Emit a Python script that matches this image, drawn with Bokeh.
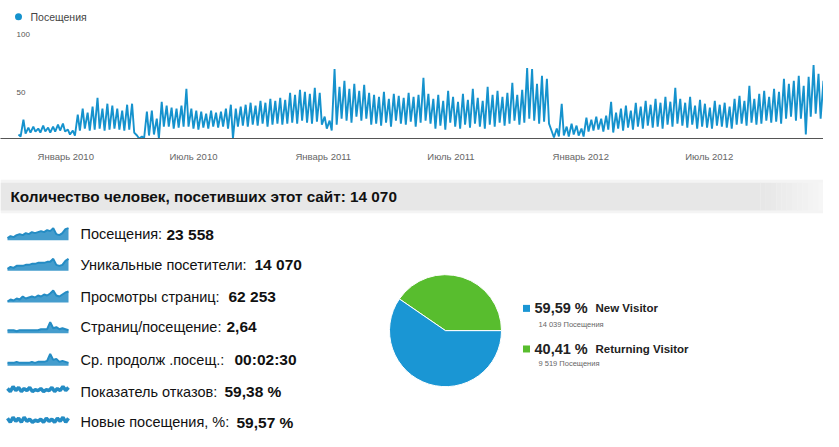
import numpy as np
import pandas as pd
from bokeh.plotting import figure
from bokeh.layouts import column
from bokeh.models import Range1d, FixedTicker
from bokeh.core.properties import value
from bokeh.embed import file_html
from bokeh.resources import INLINE

# ---------------- DATA ----------------
series_start = "2009-10-24"
# weekly peak (weekday) and trough (weekend) of daily visits
week_high = [4, 19, 11, 12, 10, 13, 11, 12, 14, 15, 9, 8, 24, 30, 26, 32, 41, 30, 35, 33,
             30, 28, 34, 35, 3, 2, 27, 28, 20, 37, 33, 31, 30, 33, 50, 30, 28, 27, 25, 28,
             26, 27, 30, 34, 30, 32, 34, 36, 33, 38, 36, 40, 38, 41, 39, 46, 44, 49, 47, 45,
             51, 46, 22, 18, 70, 52, 58, 50, 55, 48, 54, 46, 44, 42, 47, 40, 45, 43, 41, 46,
             42, 44, 61, 45, 40, 44, 38, 48, 42, 37, 45, 39, 50, 41, 38, 52, 44, 48, 42, 46,
             56, 44, 49, 71, 70, 55, 63, 60, 7, 10, 35, 12, 15, 13, 10, 21, 19, 22, 20, 23,
             37, 26, 30, 33, 28, 36, 32, 38, 34, 40, 36, 42, 37, 51, 40, 36, 42, 33, 39, 35,
             31, 38, 34, 36, 32, 40, 43, 38, 53, 40, 45, 48, 42, 50, 47, 60, 55, 58, 63, 53,
             62, 74, 65, 58, 62, 50]
week_low = [2, 5, 6, 7, 6, 7, 6, 7, 8, 7, 4, 3, 8, 10, 8, 9, 10, 8, 9, 10,
            9, 8, 9, 6, 0, 0, 3, 4, 0, 12, 12, 10, 11, 12, 12, 10, 9, 11, 10, 12,
            11, 12, 10, 0, 12, 13, 12, 14, 13, 15, 12, 14, 15, 14, 15, 16, 15, 18, 16, 15,
            17, 14, 10, 8, 14, 20, 18, 16, 22, 18, 20, 14, 15, 13, 16, 12, 18, 15, 14, 17,
            12, 16, 18, 15, 10, 13, 9, 16, 12, 10, 14, 11, 15, 12, 10, 14, 12, 16, 13, 15,
            18, 14, 16, 20, 18, 15, 17, 15, 1, 2, 3, 2, 4, 3, 2, 7, 8, 9, 7, 9,
            6, 10, 8, 11, 9, 12, 10, 13, 11, 12, 10, 14, 12, 15, 13, 11, 14, 10, 12, 11,
            10, 13, 12, 11, 10, 14, 15, 13, 16, 14, 15, 18, 16, 17, 15, 20, 22, 18, 20, 4,
            22, 25, 20, 18, 21, 15]

tick_dates = ["2010-01-01", "2010-07-01", "2011-01-01", "2011-07-01", "2012-01-01", "2012-07-01"]
tick_labels = ["Январь 2010", "Июль 2010", "Январь 2011", "Июль 2011", "Январь 2012", "Июль 2012"]
y_ticks = [50, 100]
series_name = "Посещения"

unique_visitors = 14070
metric_names = ["Посещения:", "Уникальные посетители:", "Просмотры страниц:",
                "Страниц/посещение:", "Ср. продолж .посещ.:", "Показатель отказов:",
                "Новые посещения, %:"]
metric_values = ["23 558", "14 070", "62 253", "2,64", "00:02:30", "59,38 %", "59,57 %"]

spark_visits = [2, 4, 3, 5, 6, 5, 7, 6, 8, 7, 8, 9, 8, 10, 9, 12, 6, 5, 7, 11, 12]
spark_unique = [2, 4, 3, 5, 5, 5, 6, 6, 7, 7, 8, 8, 8, 9, 9, 12, 6, 5, 6, 10, 12]
spark_pageviews = [1, 3, 2, 4, 3, 6, 4, 5, 6, 5, 7, 6, 8, 7, 9, 12, 7, 6, 8, 10, 11]
spark_pages_per_visit = [3, 3, 3, 2, 3, 3, 3, 3, 3, 3, 3, 4, 4, 4, 11, 5, 6, 4, 5, 4, 3]
spark_duration = [3, 3, 3, 4, 3, 3, 3, 3, 4, 3, 4, 4, 4, 5, 12, 6, 7, 4, 5, 4, 3]
spark_bounce = [9, 6, 11, 7, 10, 6, 9, 7, 10, 6, 8, 7, 9, 6, 8, 7, 10, 6, 9, 7, 11, 7, 10]
spark_new = [10, 6, 11, 7, 10, 6, 11, 7, 9, 6, 8, 7, 9, 6, 10, 7, 9, 6, 10, 7, 11, 6, 10]
sparks = [spark_visits, spark_unique, spark_pageviews, spark_pages_per_visit,
          spark_duration, spark_bounce, spark_new]

visitor_types = ["New Visitor", "Returning Visitor"]
visitor_share = [59.59, 40.41]
visitor_visits = [14039, 9519]

# ---------------- STYLE / LAYOUT ----------------
FONT = "Liberation Sans"
BLUE = "#1592cd"
SPARK = "#248cc4"
pie_colors = ["#1a96d4", "#58bd2e"]
W, H = 823, 431
SY = 0.99                                 # slight vertical squeeze so the page fits


def Y(r):
    return r * SY


H_TOP = int(round(Y(166)))
H_BOT = H - H_TOP


def YU(r):                               # reference y -> bottom-panel data y (upwards)
    return H - Y(r)


# ---------------- TOP LINE CHART ----------------
start = pd.Timestamp(series_start)
xs, ys = [], []
for i, (h, l) in enumerate(zip(week_high, week_low)):
    xs += [7 * i + 2, 7 * i + 5]
    ys += [h, l]
tick_pos = [int((pd.Timestamp(d) - start).days) for d in tick_dates]

frame_h = int(round(Y(144)))
px_per_unit = (Y(144) - Y(40)) / 100.0
px_per_day = (582 - 67) / 730.0
x0 = xs[0] - 18 / px_per_day
x1 = x0 + W / px_per_day

p1 = figure(width=W, height=H_TOP, output_backend="svg", toolbar_location=None,
            x_range=Range1d(x0, x1), y_range=Range1d(0, frame_h / px_per_unit),
            y_axis_type=None, min_border_left=0, min_border_right=0,
            min_border_top=0, min_border_bottom=H_TOP - frame_h)
p1.outline_line_color = None
p1.grid.visible = False

p1.line(xs, ys, color=BLUE, line_width=1.9)

ax = p1.xaxis[0]
ax.ticker = FixedTicker(ticks=tick_pos)
ax.major_label_overrides = {k: v for k, v in zip(tick_pos, tick_labels)}
ax.axis_line_color = "#555555"
ax.axis_line_width = 1.2
ax.major_tick_line_color = None
ax.minor_tick_line_color = None
ax.major_label_text_font = FONT
ax.major_label_text_font_size = "9.5px"
ax.major_label_text_color = "#666666"
ax.major_label_standoff = 6

p1.text(x=[x0] * len(y_ticks), y=y_ticks, text=[str(v) for v in y_ticks],
        x_offset=16, y_offset=[4, -5], text_baseline="middle",
        text_font=value(FONT), text_font_size="8px", text_color="#555555")

# series key (dot + name) in the top-left corner
key_x = x0 + 18 / px_per_day
key_y = (frame_h - Y(17)) / px_per_unit
p1.scatter(x=[key_x], y=[key_y], size=7, color=BLUE, line_color=None)
p1.text(x=[key_x], y=[key_y], text=[series_name], x_offset=12, text_baseline="middle",
        text_font=value(FONT), text_font_size="10.5px", text_color="#444444")

# ---------------- BOTTOM PANEL ----------------
p2 = figure(width=W, height=H_BOT, output_backend="svg", toolbar_location=None,
            x_range=Range1d(0, W), y_range=Range1d(0, H_BOT),
            x_axis_type=None, y_axis_type=None, min_border=0)
p2.outline_line_color = None
p2.grid.visible = False

# grey header band (soft edge + fading right end)
p2.quad(left=[0], right=[W], bottom=[YU(215)], top=[YU(181)], color="#f4f4f4",
        line_color=None)
fade_edges = np.linspace(760, W, 13)
fade_cols = ["#%02x%02x%02x" % (c, c, c) for c in np.linspace(0xe7, 0xf6, 12).astype(int)]
p2.quad(left=[0], right=[fade_edges[0]], bottom=[YU(212)], top=[YU(184)],
        color="#e7e7e7", line_color=None)
p2.quad(left=fade_edges[:-1], right=fade_edges[1:], bottom=[YU(212)] * 12,
        top=[YU(184)] * 12, color=fade_cols, line_color=None)
title = "Количество человек, посетивших этот сайт: " + f"{unique_visitors:,}".replace(",", " ")
p2.text(x=[10], y=[YU(198)], text=[title], text_baseline="middle", text_font=value(FONT),
        text_font_style="bold", text_font_size="15.3px", text_color="#111111")

row_y = [YU(r) for r in [236, 267, 299, 330, 363, 395, 426]]
value_x = [166, 254, 228, 226, 234, 224, 236]
for k, sp in enumerate(sparks):
    sp = np.asarray(sp, dtype=float)
    base = row_y[k] - 6
    sx = np.linspace(7, 68, len(sp))
    sy = base + sp
    if k < 5:
        p2.varea(x=sx, y1=np.full(len(sp), base), y2=sy, color=SPARK, alpha=0.85)
        p2.line(sx, sy, color=SPARK, line_width=2)
    else:
        p2.line(sx, sy, color=SPARK, line_width=3.5)

p2.text(x=[80] * 7, y=row_y, text=metric_names, text_baseline="middle",
        text_font=value(FONT), text_font_size="14.5px", text_color="#111111")
p2.text(x=value_x, y=row_y, text=metric_values, text_baseline="middle",
        text_font=value(FONT), text_font_style="bold", text_font_size="15.5px",
        text_color="#111111")

# pie
fr = np.array(visitor_share[::-1]) / 100.0
ends = np.cumsum(fr) * 2 * np.pi
starts = np.concatenate([[0], ends[:-1]])
p2.wedge(x=445, y=YU(333.5), radius=56, start_angle=starts, end_angle=ends,
         color=pie_colors[::-1], line_color="white", line_width=1)

leg_y = [YU(311), YU(352)]
p2.scatter(x=[526] * 2, y=leg_y, marker="square", size=7, color=pie_colors, line_color=None)
pct = [f"{s:.2f}".replace(".", ",") + " %" for s in visitor_share]
p2.text(x=[534] * 2, y=leg_y, text=pct, text_baseline="middle", text_font=value(FONT),
        text_font_style="bold", text_font_size="14.5px", text_color="#222222")
p2.text(x=[595] * 2, y=leg_y, text=visitor_types, text_baseline="middle",
        text_font=value(FONT), text_font_style="bold", text_font_size="11.5px",
        text_color="#222222")
sub = [f"{v:,}".replace(",", " ") + " Посещения" for v in visitor_visits]
p2.text(x=[538] * 2, y=[YU(327), YU(367)], text=sub, text_baseline="middle",
        text_font=value(FONT), text_font_size="7.5px", text_color="#666666")

layout = column(p1, p2, spacing=0)
open("out.html", "w").write(file_html(layout, INLINE))
